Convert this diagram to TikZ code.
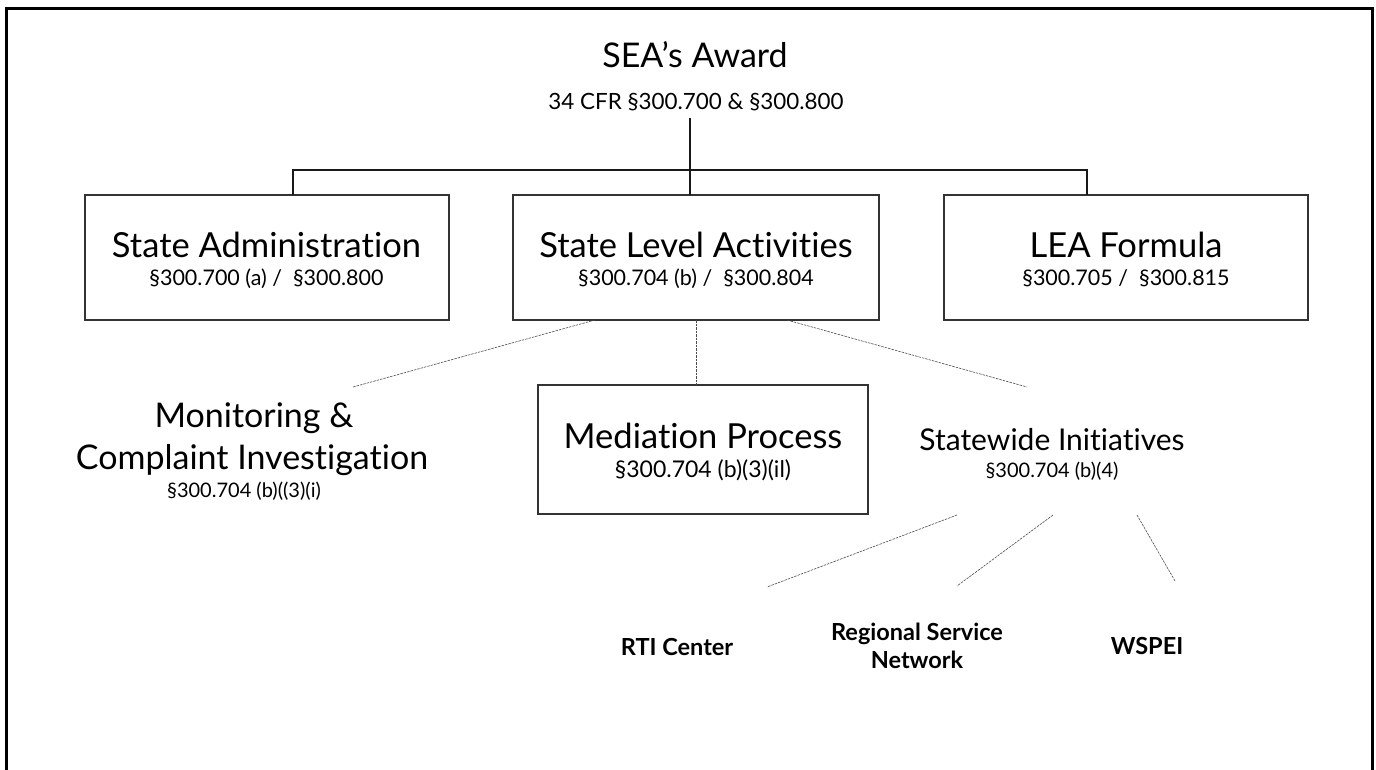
\documentclass[tikz,border=0pt]{standalone}
\usepackage{fontspec}
\setmainfont{Lato}[Ligatures={NoCommon,NoContextual}]
\begin{document}
\begin{tikzpicture}[x=1pt,y=-1pt,
  box/.style={draw=black!80,line width=1.8pt,inner sep=0pt,outer sep=0pt},
  tree/.style={draw=black!90,line width=1.8pt},
  dotline/.style={draw=black!70,line width=0.6pt,dash pattern=on 2.5pt off 1pt},
  bigtitle/.style={font=\fontsize{34}{40}\selectfont,anchor=base,inner sep=0pt},
  subtitle/.style={font=\fontsize{22.4}{26}\selectfont,anchor=base,inner sep=0pt},
  head/.style={font=\fontsize{34.5}{40}\selectfont,anchor=base,inner sep=0pt},
  ref/.style={font=\fontsize{21.5}{25}\selectfont,anchor=base,inner sep=0pt},
  leaf/.style={font=\bfseries\fontsize{23.5}{28}\selectfont,align=center,inner sep=0pt}]
\useasboundingbox (0,0) rectangle (1376,769);
% outer frame
\draw[line width=3pt] (6,790) -- (6,8) -- (1372,8) -- (1372,790);
% top
\node[bigtitle] (award) at (695,67) {SEA’s Award};
\node[subtitle] (cfr) at (696,109) {34 CFR §300.700 \& §300.800};
% boxes
\node[box,minimum width=364pt,minimum height=125pt] (sa) at (267,257.5) {};
\node[box,minimum width=366pt,minimum height=125pt] (sla) at (696,257.5) {};
\node[box,minimum width=364pt,minimum height=125pt] (lea) at (1126,257.5) {};
\node[head] (saT) at (266.5,257) {State Administration};
\node[ref] (saR) at (266.5,285) {§300.700 (a) /\ \ §300.800};
\node[head] (slaT) at (696,257) {State Level Activities};
\node[ref] (slaR) at (696,285) {§300.704 (b) /\ \ §300.804};
\node[head] (leaT) at (1126,257) {LEA Formula};
\node[ref] (leaR) at (1126,285) {§300.705 /\ \ §300.815};
% tree connector
\coordinate (top) at (690,118);
\draw[tree] (top) -- (top |- sla.north);
\draw[tree] (sa.north -| 293,0) -- (293,170) -- (1087,170) -- (lea.north -| 1087,0);
% second level
\node[box,minimum width=330pt,minimum height=129pt] (med) at (703,449.5) {};
\node[head] (medT) at (703,448) {Mediation Process};
\node[ref,font=\fontsize{23}{27}\selectfont] (medR) at (703,477) {§300.704 (b)(3)(il)};
\node[head,font=\fontsize{34}{40}\selectfont] (monA) at (254,427) {Monitoring \&};
\node[head,font=\fontsize{34}{40}\selectfont] (monB) at (252,469) {Complaint Investigation};
\node[ref,font=\fontsize{20}{24}\selectfont] (monR) at (244,497) {§300.704 (b)((3)(i)};
\node[head,font=\fontsize{30}{36}\selectfont] (swT) at (1052,450) {Statewide Initiatives};
\node[ref,font=\fontsize{20}{24}\selectfont] (swR) at (1052,477) {§300.704 (b)(4)};
\coordinate (monTop) at (353,387);
\coordinate (swTop) at (1027,387);
\draw[dotline] ([xshift=-101pt]sla.south) -- (monTop);
\draw[dotline] (sla.south) -- (sla.south |- med.north);
\draw[dotline] ([xshift=91pt]sla.south) -- (swTop);
% leaves
\node[leaf] (rti) at (677,647) {RTI Center};
\node[leaf] (rsn) at (917,646) {Regional Service\\Network};
\node[leaf] (wspei) at (1147,646) {WSPEI};
\coordinate (l1a) at (957,515); \coordinate (l1b) at (767,587);
\coordinate (l2a) at (1053,515); \coordinate (l2b) at (957,586);
\coordinate (l3a) at (1137,515); \coordinate (l3b) at (1175,581);
\draw[dotline] (l1a) -- (l1b);
\draw[dotline] (l2a) -- (l2b);
\draw[dotline] (l3a) -- (l3b);
\end{tikzpicture}
\end{document}
